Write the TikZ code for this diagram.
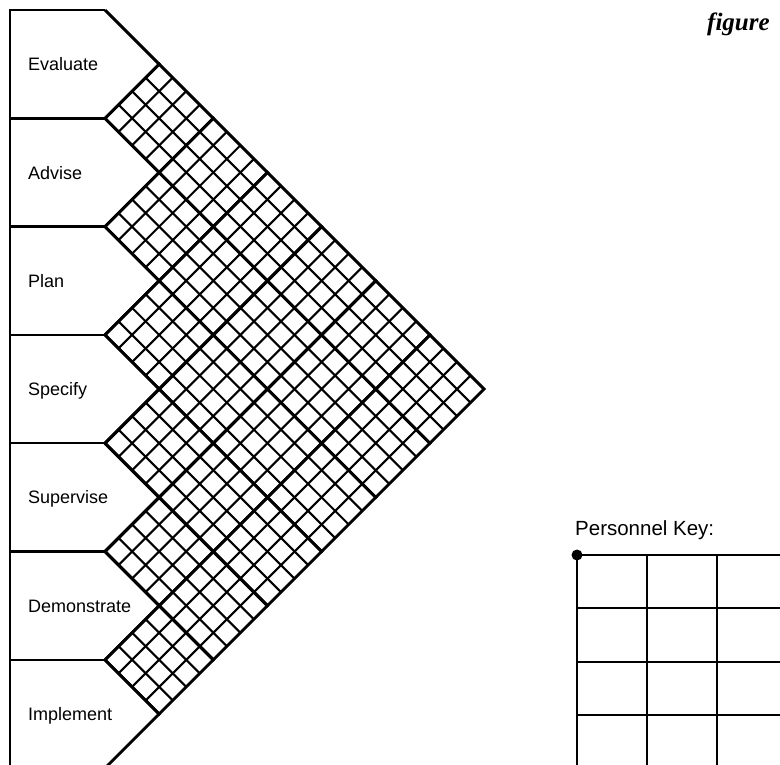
\documentclass[tikz,border=0pt]{standalone}
\usepackage{fontspec}
\setmainfont{Liberation Sans}
\newfontfamily\figfont{Liberation Serif}

\begin{document}
\begin{tikzpicture}[
    x=1pt, y=-1pt,
    fine_line/.style={line width=2.1pt},
    main_line/.style={line width=2.9pt, line join=miter},
    box_line/.style={line width=2.4pt},
    key_line/.style={line width=2.9pt},
    label_text/.style={anchor=west, inner sep=0pt, text height=13pt, text depth=0pt, font=\fontsize{18}{20}\selectfont}
]
    \useasboundingbox (0,0) rectangle (780,764);
    \clip (0,0) rectangle (780,764);

    % activity boxes
    \draw[box_line] (105,10) -- (10,10) -- (10,780);
    \foreach \y in {118.3,226.6,334.9,443.2,551.5,659.8,768.1}
        \draw[box_line] (10,\y) -- (105,\y);

        \node[label_text] (evaluate) at (28,64.2) {Evaluate};
        \node[label_text] (advise) at (28,172.5) {Advise};
        \node[label_text] (plan) at (28,280.8) {Plan};
        \node[label_text] (specify) at (28,389.1) {Specify};
        \node[label_text] (supervise) at (28,497.4) {Supervise};
        \node[label_text] (demonstrate) at (28,605.7) {Demonstrate};
        \node[label_text] (implement) at (28,714.0) {Implement};

    % interaction matrix, (q,p) along the two diagonals
    \begin{scope}[shift={(105,10)}, x={(54.15pt,-54.15pt)}, y={(-54.15pt,-54.15pt)}]
    \foreach \i in {0,...,5} {
        \pgfmathtruncatemacro{\jstart}{\i+1}
        \foreach \j in {\jstart,...,6} {
            \foreach \k in {0.25,0.5,0.75} {
                \draw[fine_line] (\j+\k,\i) -- (\j+\k,\i+1);
                \draw[fine_line] (\j,\i+\k) -- (\j+1,\i+\k);
            }
        }
    }
    \foreach \i in {0,...,5} {
        \pgfmathtruncatemacro{\jstart}{\i+1}
        \foreach \j in {\jstart,...,6}
            \draw[main_line] (\j,\i) -- (\j+1,\i) -- (\j+1,\i+1) -- (\j,\i+1) -- cycle;
    }
    \foreach \i in {0,...,6}
        \draw[main_line] (\i,\i) -- (\i+1,\i) -- (\i+1,\i+1);
    \end{scope}

    % title and key
    \node[anchor=base west, inner sep=0pt, font=\figfont\bfseries\itshape\fontsize{25}{28}\selectfont] (fig) at (707,30) {figure};
    \node[anchor=base west, inner sep=0pt, font=\fontsize{20.5}{24}\selectfont] (keytitle) at (575,535) {Personnel Key:};
    \coordinate (key) at (577,555);
    \foreach \x in {577,647,717}
        \draw[key_line] (\x,555) -- (\x,790);
    \foreach \y in {555,608,662,715}
        \draw[key_line] (577,\y) -- (800,\y);
    \fill (key) circle (5.5pt);
\end{tikzpicture}
\end{document}
